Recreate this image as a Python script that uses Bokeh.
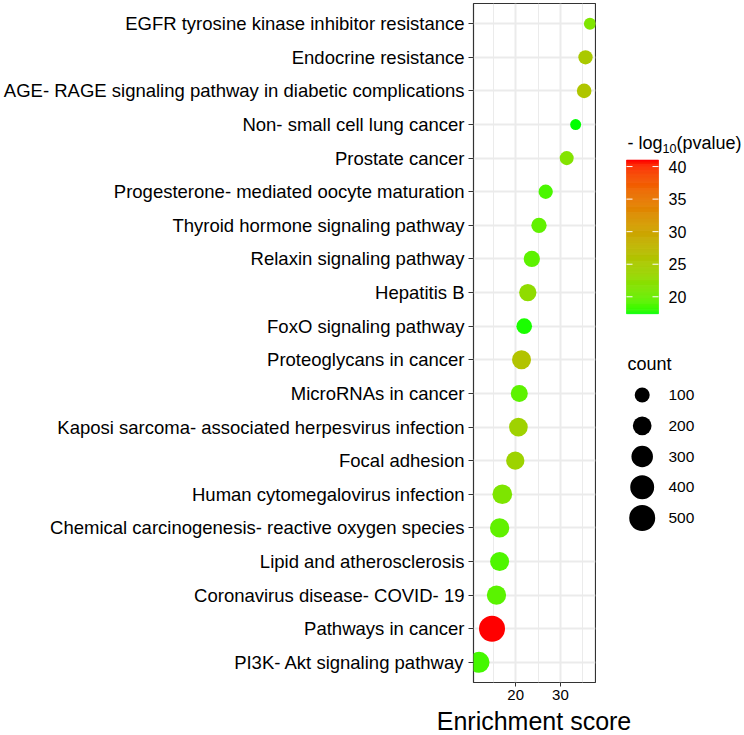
import numpy as np
from bokeh.plotting import figure
from bokeh.models import FactorRange, Range1d, FixedTicker, ColumnDataSource, LinearColorMapper
from bokeh.layouts import row, column
from bokeh.core.properties import value
from bokeh.embed import file_html
from bokeh.resources import INLINE

# ---------------- data ----------------
terms = [
    "EGFR tyrosine kinase inhibitor resistance",
    "Endocrine resistance",
    "AGE- RAGE signaling pathway in diabetic complications",
    "Non- small cell lung cancer",
    "Prostate cancer",
    "Progesterone- mediated oocyte maturation",
    "Thyroid hormone signaling pathway",
    "Relaxin signaling pathway",
    "Hepatitis B",
    "FoxO signaling pathway",
    "Proteoglycans in cancer",
    "MicroRNAs in cancer",
    "Kaposi sarcoma- associated herpesvirus infection",
    "Focal adhesion",
    "Human cytomegalovirus infection",
    "Chemical carcinogenesis- reactive oxygen species",
    "Lipid and atherosclerosis",
    "Coronavirus disease- COVID- 19",
    "Pathways in cancer",
    "PI3K- Akt signaling pathway",
]
enrichment = [36.6, 35.6, 35.3, 33.4, 31.4, 26.7, 25.2, 23.6, 22.7, 21.9,
              21.3, 20.8, 20.6, 19.9, 17.0, 16.4, 16.4, 15.7, 14.7, 11.8]
neg_log10_p = [21.3, 25.2, 25.7, 17.4, 21.6, 18.6, 19.6, 19.4, 22.6, 17.6,
               26.1, 19.4, 24.0, 23.8, 21.2, 19.6, 18.8, 19.3, 41.0, 18.5]
counts = [45, 85, 91, 30, 79, 85, 107, 131, 158, 116,
          210, 150, 200, 188, 233, 220, 210, 220, 500, 280]
count_breaks = [100, 200, 300, 400, 500]
color_ticks = [20, 25, 30, 35, 40]
x_ticks = [20, 30]
x_minor_ticks = [15, 25, 35]
x_title = "Enrichment score"

FONT = "Liberation Sans"

# ---------------- colour helpers (CIELAB ramp like ggplot2) ----------------
_M = np.array([[0.4124564, 0.3575761, 0.1804375],
               [0.2126729, 0.7151522, 0.0721750],
               [0.0193339, 0.1191920, 0.9503041]])
_MI = np.linalg.inv(_M)
_WP = np.array([0.95047, 1.0, 1.08883])


def hex_to_lab(h):
    rgb = np.array([int(h[i:i + 2], 16) / 255.0 for i in (1, 3, 5)])
    lin = np.where(rgb <= 0.04045, rgb / 12.92, ((rgb + 0.055) / 1.055) ** 2.4)
    xyz = _M @ lin / _WP
    f = np.where(xyz > 216 / 24389, np.cbrt(xyz), (24389 / 27 * xyz + 16) / 116)
    return np.array([116 * f[1] - 16, 500 * (f[0] - f[1]), 200 * (f[1] - f[2])])


def lab_to_hex(lab):
    L, a, b = lab
    fy = (L + 16) / 116
    f = np.array([fy + a / 500, fy, fy - b / 200])
    xyz = np.where(f ** 3 > 216 / 24389, f ** 3, (116 * f - 16) / (24389 / 27)) * _WP
    lin = np.clip(_MI @ xyz, 0, 1)
    rgb = np.where(lin <= 0.0031308, 12.92 * lin, 1.055 * lin ** (1 / 2.4) - 0.055)
    rgb = np.clip(np.round(rgb * 255), 0, 255).astype(int)
    return "#%02x%02x%02x" % tuple(rgb)


def lab_ramp(low, high, n):
    a, b = hex_to_lab(low), hex_to_lab(high)
    return [lab_to_hex(a + (b - a) * t) for t in np.linspace(0, 1, n)]


palette = lab_ramp("#00FF00", "#FF0000", 256)
c_low, c_high = min(neg_log10_p), max(neg_log10_p)
mapper = LinearColorMapper(palette=palette, low=c_low, high=c_high)


def count_to_px(c):
    return 6.1 + 0.89 * np.sqrt(np.asarray(c, dtype=float))


# ---------------- layout sizes ----------------
W_TOTAL = 744
H_TOP = 707
H_LABEL = 28
W_MAIN = 596
W_LEG = W_TOTAL - W_MAIN
FRAME_L = 472
FRAME_R = 595

# ---------------- main panel ----------------
span = max(enrichment) - min(enrichment)
x_range = Range1d(min(enrichment) - 0.05 * span, max(enrichment) + 0.05 * span)
y_range = FactorRange(factors=list(reversed(terms)), range_padding=0.1,
                      range_padding_units="absolute")

p = figure(width=W_MAIN, height=H_TOP, x_range=x_range, y_range=y_range,
           output_backend="svg", toolbar_location=None,
           min_border_left=FRAME_L, min_border_right=W_MAIN - FRAME_R,
           min_border_top=3, min_border_bottom=25)

src = ColumnDataSource(dict(term=terms, enrichment=enrichment, nlp=neg_log10_p,
                            count=counts, size=count_to_px(counts)))
p.scatter("enrichment", "term", size="size", source=src,
          fill_color={"field": "nlp", "transform": mapper}, line_color=None)

p.xaxis.ticker = FixedTicker(ticks=x_ticks, minor_ticks=x_minor_ticks)
p.xaxis.major_label_text_font_size = "15px"
p.xaxis.major_label_standoff = 3
p.xaxis.major_tick_out = 4
p.yaxis.major_label_text_font_size = "18.5px"
p.yaxis.major_label_standoff = 4
p.yaxis.major_tick_out = 5
for ax in (p.xaxis, p.yaxis):
    ax.major_label_text_font = FONT
    ax.major_label_text_color = "black"
    ax.axis_line_color = None
    ax.major_tick_line_color = "#333333"
    ax.major_tick_line_width = 1
    ax.major_tick_in = 0
    ax.minor_tick_line_color = None

p.xgrid.grid_line_color = "#EBEBEB"
p.xgrid.grid_line_width = 2
p.xgrid.minor_grid_line_color = "#EBEBEB"
p.xgrid.minor_grid_line_width = 1
p.ygrid.grid_line_color = "#EBEBEB"
p.ygrid.grid_line_width = 2
p.outline_line_color = "#333333"
p.outline_line_width = 1.2
p.background_fill_color = "white"
p.border_fill_color = "white"

# ---------------- legends panel (pixel coordinates, y downwards) ----------------
leg = figure(width=W_LEG, height=H_TOP, x_range=Range1d(0, W_LEG), y_range=Range1d(H_TOP, 0),
             output_backend="svg", toolbar_location=None,
             x_axis_location=None, y_axis_location=None,
             min_border=0, min_border_left=0, min_border_right=0,
             min_border_top=0, min_border_bottom=0)
leg.grid.visible = False
leg.outline_line_color = None
leg.background_fill_color = "white"
leg.border_fill_color = "white"

# colour bar
cb_x0, cb_x1, cb_top, cb_bot = 30, 62, 163, 323


def v_to_y(v):
    return cb_bot - (np.asarray(v, dtype=float) - c_low) / (c_high - c_low) * (cb_bot - cb_top)


edges = np.linspace(c_low, c_high, 161)
mids = (edges[:-1] + edges[1:]) / 2
cb_src = ColumnDataSource(dict(v=mids, bottom=v_to_y(edges[:-1]), top=v_to_y(edges[1:])))
leg.quad(left=cb_x0, right=cb_x1, bottom="bottom", top="top", source=cb_src,
         fill_color={"field": "v", "transform": mapper},
         line_color={"field": "v", "transform": mapper}, line_width=0.6)
ty = v_to_y(color_ticks)
leg.segment(x0=[cb_x0] * len(ty), x1=[cb_x0 + 6] * len(ty), y0=ty, y1=ty,
            line_color="white", line_width=1)
leg.segment(x0=[cb_x1 - 6] * len(ty), x1=[cb_x1] * len(ty), y0=ty, y1=ty,
            line_color="white", line_width=1)
leg.text(x=[cb_x1 + 10] * len(ty), y=ty, text=[str(t) for t in color_ticks],
         text_font=value(FONT), text_font_size=value("16px"), text_color="black",
         text_baseline="middle", text_align="left")

# colour bar title: - log10(pvalue)
t_x, t_y, fs = 31, 145, 18
leg.text(x=[t_x], y=[t_y], text=["- log"], text_font=value(FONT),
         text_font_size=value(f"{fs}px"), text_color="black",
         text_baseline="middle", text_align="left")
leg.text(x=[t_x + 1.945 * fs], y=[t_y + 6], text=["10"], text_font=value(FONT),
         text_font_size=value(f"{fs * 0.7:.2f}px"), text_color="black",
         text_baseline="middle", text_align="left")
leg.text(x=[t_x + 1.945 * fs + 1.112 * fs * 0.7], y=[t_y], text=["(pvalue)"],
         text_font=value(FONT), text_font_size=value(f"{fs}px"), text_color="black",
         text_baseline="middle", text_align="left")

# size legend
leg.text(x=[31], y=[375], text=["count"], text_font=value(FONT),
         text_font_size=value("18px"), text_color="black",
         text_baseline="middle", text_align="left")
ky = [407.7 + 32 * i for i in range(len(count_breaks))]
leg.scatter(x=[45.7] * len(count_breaks), y=ky, size=count_to_px(count_breaks),
            fill_color="black", line_color=None)
leg.text(x=[72] * len(count_breaks), y=ky, text=[str(c) for c in count_breaks],
         text_font=value(FONT), text_font_size=value("15.5px"), text_color="black",
         text_baseline="middle", text_align="left")

# ---------------- x-axis title strip (spans under panel and legends) ----------------
lab = figure(width=W_TOTAL, height=H_LABEL, x_range=Range1d(0, W_TOTAL),
             y_range=Range1d(H_LABEL, 0), output_backend="svg", toolbar_location=None,
             x_axis_location=None, y_axis_location=None,
             min_border=0, min_border_left=0, min_border_right=0,
             min_border_top=0, min_border_bottom=0)
lab.grid.visible = False
lab.outline_line_color = None
lab.background_fill_color = "white"
lab.border_fill_color = "white"
lab.text(x=[(FRAME_L + FRAME_R) / 2], y=[13], text=[x_title], text_font=value(FONT),
         text_font_size=value("25px"), text_color="black",
         text_baseline="middle", text_align="center")

layout = column(row(p, leg), lab)
open("out.html", "w").write(file_html(layout, INLINE))
